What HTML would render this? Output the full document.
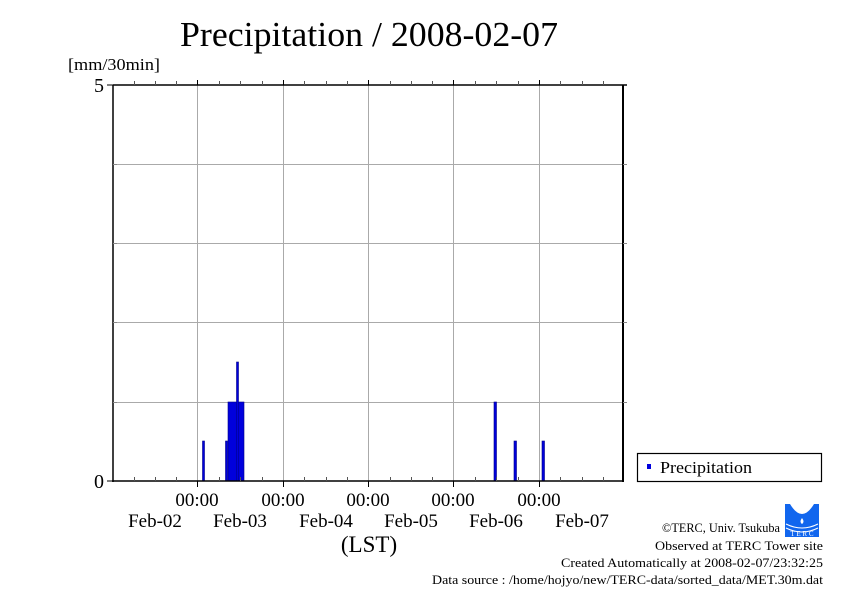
<!DOCTYPE html><html><head><style>body{margin:0;background:#fff}svg{display:block}text{font-family:"Liberation Serif",serif}</style></head><body>
<svg width="842" height="595" xmlns="http://www.w3.org/2000/svg">
<text x="369" y="46" font-size="35" text-anchor="middle" textLength="378" lengthAdjust="spacingAndGlyphs">Precipitation / 2008-02-07</text>
<text x="68" y="70" font-size="17" textLength="92" lengthAdjust="spacingAndGlyphs">[mm/30min]</text>
<g stroke="#aaa" stroke-width="1">
<line x1="113" y1="164.5" x2="623" y2="164.5"/><line x1="113" y1="243.5" x2="623" y2="243.5"/><line x1="113" y1="322.5" x2="623" y2="322.5"/><line x1="113" y1="402.5" x2="623" y2="402.5"/>
<line x1="197.5" y1="85" x2="197.5" y2="481"/><line x1="283.5" y1="85" x2="283.5" y2="481"/><line x1="368.5" y1="85" x2="368.5" y2="481"/><line x1="453.5" y1="85" x2="453.5" y2="481"/><line x1="539.5" y1="85" x2="539.5" y2="481"/>
</g>
<g fill="#0000dd" stroke="#000088" stroke-width="0.6">
<rect x="202.5" y="441" width="2" height="40"/>
<rect x="225.5" y="441" width="2" height="40"/>
<rect x="228" y="402" width="16" height="79"/>
<rect x="236.5" y="362" width="2" height="119"/>
<rect x="494" y="402" width="2.5" height="79"/>
<rect x="514" y="441" width="2.5" height="40"/>
<rect x="542" y="441" width="2.5" height="40"/>
</g>
<g stroke="#000" fill="none">
<line x1="113" y1="85" x2="113" y2="482" stroke-width="1.5"/>
<line x1="112" y1="481" x2="624" y2="481" stroke-width="1.5"/>
<line x1="113" y1="85" x2="627" y2="85" stroke-width="1.5"/>
<line x1="623" y1="85" x2="623" y2="482" stroke-width="2"/>
<line x1="107" y1="85" x2="113" y2="85"/><line x1="107" y1="481" x2="113" y2="481"/>
</g>
<g stroke="#555" stroke-width="1">
<path d="M134.5 481v-4M155.5 481v-4M176.5 481v-4M219.5 481v-4M240.5 481v-4M262.5 481v-4M304.5 481v-4M326.5 481v-4M347.5 481v-4M390.5 481v-4M411.5 481v-4M432.5 481v-4M475.5 481v-4M496.5 481v-4M518.5 481v-4M560.5 481v-4M582.5 481v-4M603.5 481v-4"/>
<path d="M134.5 85v-4M155.5 85v-4M176.5 85v-4M219.5 85v-4M240.5 85v-4M262.5 85v-4M304.5 85v-4M326.5 85v-4M347.5 85v-4M390.5 85v-4M411.5 85v-4M432.5 85v-4M475.5 85v-4M496.5 85v-4M518.5 85v-4M560.5 85v-4M582.5 85v-4M603.5 85v-4"/>
<path d="M113 164.5h4M113 243.5h4M113 322.5h4M113 402.5h4M623 164.5h4M623 243.5h4M623 322.5h4M623 402.5h4" stroke="#888"/>
</g>
<g stroke="#000"><path d="M197.5 481v6M283.5 481v6M368.5 481v6M453.5 481v6M539.5 481v6M197.5 85v-5M283.5 85v-5M368.5 85v-5M453.5 85v-5M539.5 85v-5"/></g>
<g font-size="20" text-anchor="end"><text x="104" y="92">5</text><text x="104" y="488">0</text></g>
<g font-size="19" text-anchor="middle">
<text x="197" y="506">00:00</text><text x="283" y="506">00:00</text><text x="368" y="506">00:00</text><text x="453" y="506">00:00</text><text x="539" y="506">00:00</text>
<text x="155" y="527">Feb-02</text><text x="240" y="527">Feb-03</text><text x="326" y="527">Feb-04</text><text x="411" y="527">Feb-05</text><text x="496" y="527">Feb-06</text><text x="582" y="527">Feb-07</text>
<text x="369" y="552" font-size="23">(LST)</text>
</g>
<rect x="637.5" y="453.5" width="184" height="28" fill="#fff" stroke="#000" stroke-width="1.2"/>
<rect x="647" y="464" width="4" height="5" fill="#0000dd"/>
<text x="660" y="473" font-size="17" textLength="92" lengthAdjust="spacingAndGlyphs">Precipitation</text>
<g font-size="12.5" text-anchor="end">
<text x="780" y="532" textLength="118" lengthAdjust="spacingAndGlyphs">©TERC, Univ. Tsukuba</text>
<text x="823" y="550" textLength="168" lengthAdjust="spacingAndGlyphs">Observed at TERC Tower site</text>
<text x="823" y="567" textLength="262" lengthAdjust="spacingAndGlyphs">Created Automatically at 2008-02-07/23:32:25</text>
<text x="823" y="584" textLength="391" lengthAdjust="spacingAndGlyphs">Data source : /home/hojyo/new/TERC-data/sorted_data/MET.30m.dat</text>
</g>
<rect x="785" y="504" width="34" height="33" fill="#1166ee"/>
<path d="M790 504q12 20 24 0" fill="#fff"/>
<path d="M802 518q-3 4 0 6q3 -2 0 -6z" fill="#fff"/>
<path d="M786 524q16 8 32 0M786 528q16 8 32 0" stroke="#fff" fill="none"/>
<text x="802" y="536" font-size="7" fill="#fff" text-anchor="middle" font-family="Liberation Sans,sans-serif">T E R C</text>
</svg></body></html>
